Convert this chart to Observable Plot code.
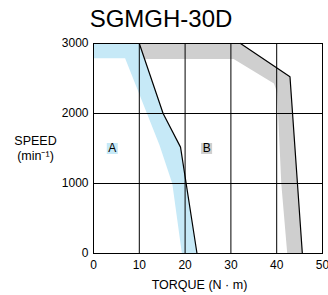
<!DOCTYPE html>
<html>
<head>
<meta charset="utf-8">
<script src="https://cdn.jsdelivr.net/npm/d3@7"></script>
<script src="https://cdn.jsdelivr.net/npm/@observablehq/plot@0.6"></script>
<style>
  html, body { margin: 0; padding: 0; background: #fff; }
  #title { width: 328px; height: 33px; line-height: 37px; box-sizing: border-box; padding-right: 6px;
           text-align: center; font-family: "Liberation Sans", Arial, sans-serif; font-size: 24px; color: #000; }
  svg { display: block; }
</style>
</head>
<body>
<div id="title">SGMGH-30D</div>
<div id="chart"></div>
<script>
// Boundary line of region A (torque N·m, speed min-1)
const curveATorque = [10, 15.2, 19.0, 22.6];
const curveASpeed  = [3000, 2000, 1520, 0];
// Inner edge of the blue band A
const bandATorque = [0, 6.9, 14.4, 17.2, 19.3];
const bandASpeed  = [2790, 2790, 1550, 1000, 0];
// Boundary line of region B
const curveBTorque = [32.1, 42.9, 45.6];
const curveBSpeed  = [3000, 2525, 0];
// Inner edge of the gray band B
const bandBTorque = [11.0, 30.6, 39.4, 40.1, 40.3, 41.0, 42.3];
const bandBSpeed  = [2780, 2780, 2430, 2300, 2000, 1000, 0];
// Region labels
const regionLabels = ["A", "B"];
const labelTorque = [4.1, 24.7];
const labelSpeed = [1500, 1500];
const labelColors = ["#c6e9f7", "#cfcfcf"];
// Ticks
const xTicks = [0, 10, 20, 30, 40, 50];
const yTicks = [0, 1000, 2000, 3000];
const xGrid = [10, 20, 30, 40];
const yGrid = [1000, 2000];

const pts = (xs, ys) => xs.map((x, i) => ({x, y: ys[i]}));
const curveA = pts(curveATorque, curveASpeed);
const curveB = pts(curveBTorque, curveBSpeed);
const polyA = [{x: 0, y: 3000}, ...curveA, ...pts(bandATorque, bandASpeed).reverse()];
const polyB = [...curveB, ...pts(bandBTorque, bandBSpeed).reverse(), {x: 10, y: 3000}];
const labels = regionLabels.map((t, i) => ({t, x: labelTorque[i], y: labelSpeed[i], c: labelColors[i]}));

const font = "Liberation Sans, Arial, sans-serif";
const chart = Plot.plot({
  width: 328,
  height: 262,
  marginTop: 10,
  marginBottom: 42,
  marginLeft: 93,
  marginRight: 6,
  style: {fontFamily: font, fontSize: "12px", color: "#000", background: "#fff"},
  x: {domain: [0, 50]},
  y: {domain: [0, 3000]},
  marks: [
    Plot.line(polyA, {x: "x", y: "y", fill: "#c6e9f7", stroke: "none", curve: "linear-closed"}),
    Plot.line(polyB, {x: "x", y: "y", fill: "#cfcfcf", stroke: "none", curve: "linear-closed"}),
    Plot.ruleX(xGrid, {stroke: "#000", strokeWidth: 1}),
    Plot.ruleY(yGrid, {stroke: "#000", strokeWidth: 1}),
    Plot.frame({stroke: "#000", strokeWidth: 1}),
    Plot.line(curveA, {x: "x", y: "y", stroke: "#000", strokeWidth: 1.2}),
    Plot.line(curveB, {x: "x", y: "y", stroke: "#000", strokeWidth: 1.2}),
    Plot.dot(labels, {x: "x", y: "y", symbol: "square", r: 6.2, fill: "c", stroke: "none"}),
    Plot.text(labels, {x: "x", y: "y", text: "t", fontSize: 12, fill: "#000"}),
    Plot.axisX({ticks: xTicks, tickSize: 0, tickPadding: 7, label: null, fontSize: 12}),
    Plot.axisY({ticks: yTicks, tickSize: 0, tickPadding: 5, label: null, fontSize: 12, tickFormat: d => String(d)}),
    Plot.text(["SPEED"], {text: d => d, frameAnchor: "left", dx: -58, dy: -8, textAnchor: "middle", fontSize: 12.5, fontWeight: 400, fill: "#000"}),
    Plot.text(["(min⁻¹)"], {text: d => d, frameAnchor: "left", dx: -58, dy: 7, textAnchor: "middle", fontSize: 12.5, fontWeight: 400, fill: "#000"}),
    Plot.text(["TORQUE (N · m)"], {text: d => d, frameAnchor: "bottom", dx: -8.5, dy: 35, textAnchor: "middle", fontSize: 12.5, fontWeight: 400, fill: "#000"})
  ]
});
document.getElementById("chart").appendChild(chart);
</script>
</body>
</html>
